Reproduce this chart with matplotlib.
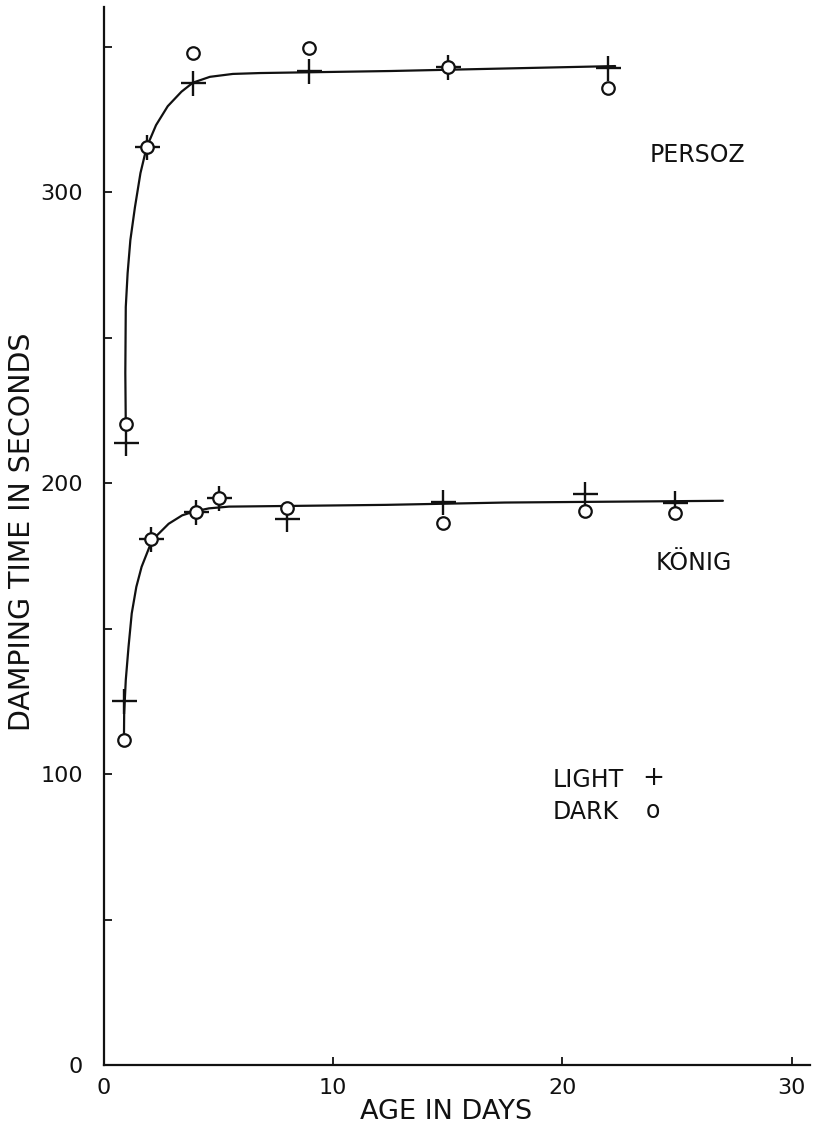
import matplotlib
matplotlib.use("Agg")
import matplotlib.pyplot as plt

# Persoz pendulum hardness
persoz_age = [0.95, 1.86, 3.9, 8.95, 15.0, 22.0]
persoz_light = [213.7, 315.4, 337.5, 341.5, 343.1, 342.5]
persoz_dark = [220.2, 315.4, 347.8, 349.4, 343.1, 335.6]

# König pendulum hardness
konig_age = [0.87, 2.05, 4.0, 5.0, 8.0, 14.8, 21.0, 24.9]
konig_light = [125.0, 180.6, 190.0, 194.8, 187.6, 193.6, 196.2, 193.0]
konig_dark = [111.6, 180.6, 190.0, 194.8, 191.4, 186.4, 190.3, 189.6]

# hand-drawn trend curves
persoz_curve_age = [0.95, 0.93, 0.95, 1.03, 1.15, 1.35, 1.59, 1.86, 2.27, 2.78,
                    3.38, 3.88, 4.62, 5.62, 6.8, 12.5, 22.3]
persoz_curve_val = [220.2, 237.8, 260.5, 272.1, 283.5, 294.8, 306.5, 315.4, 323.0,
                    329.5, 334.5, 337.6, 339.6, 340.6, 340.9, 341.6, 343.3]
konig_curve_age = [0.87, 0.88, 0.95, 1.07, 1.21, 1.41, 1.64, 2.01, 2.31, 2.82,
                   3.41, 3.92, 4.58, 5.45, 6.62, 12.3, 17.5, 27.0]
konig_curve_val = [111.9, 121.0, 132.3, 143.7, 155.2, 164.3, 171.2, 178.6, 182.0,
                   186.0, 188.9, 190.2, 191.3, 191.9, 192.0, 192.5, 193.3, 193.9]

x_ticks = [0, 10, 20, 30]
y_ticks = [0, 50, 100, 150, 200, 250, 300, 350]
y_tick_labels = ["0", "", "100", "", "200", "", "300", ""]

W, H = 816, 1128
fig = plt.figure(figsize=(W / 100, H / 100), dpi=100)
fig.patch.set_facecolor("white")

left, bottom, right, top = 104, 1065, 810, 7
ax = fig.add_axes([left / W, 1 - bottom / H, (right - left) / W, (bottom - top) / H])
ax.set_xlim(0, 30.8)
ax.set_ylim(0, 363.6)

ink = "#111111"
for side in ("top", "right"):
    ax.spines[side].set_visible(False)
for side in ("left", "bottom"):
    ax.spines[side].set_linewidth(1.6)
    ax.spines[side].set_color(ink)

font = "DejaVu Sans"

# curves
ax.plot(persoz_curve_age, persoz_curve_val, color=ink, lw=1.6,
        solid_joinstyle="round", solid_capstyle="round", zorder=2)
ax.plot(konig_curve_age, konig_curve_val, color=ink, lw=1.6,
        solid_joinstyle="round", solid_capstyle="round", zorder=2)

# light (+) and dark (o) measurements
for age, light, dark in ((persoz_age, persoz_light, persoz_dark),
                         (konig_age, konig_light, konig_dark)):
    ax.plot(age, light, linestyle="none", marker="+", markersize=18,
            markeredgewidth=1.7, color=ink, zorder=3)
    ax.plot(age, dark, linestyle="none", marker="o", markersize=9,
            markeredgewidth=1.6, markerfacecolor="white",
            markeredgecolor=ink, zorder=4)

# ticks
ax.set_xticks(x_ticks)
ax.set_xticklabels([str(v) for v in x_ticks], fontfamily=font, fontsize=16)
ax.set_yticks(y_ticks)
ax.set_yticklabels(y_tick_labels, fontfamily=font, fontsize=16)
ax.tick_params(axis="both", direction="in", length=6, width=1.3, color=ink,
               labelcolor=ink)
ax.tick_params(axis="x", pad=9)
ax.tick_params(axis="y", pad=15)


def ftext(px, py, s, **kw):
    fig.text(px / W, 1 - py / H, s, fontfamily=font, color=ink, **kw)


# axis titles
ftext(446, 1112, "AGE IN DAYS", fontsize=19.5, ha="center", va="center")
ftext(22, 532, "DAMPING TIME IN SECONDS", fontsize=20.5, rotation=90,
      ha="center", va="center")

# annotations
ftext(697, 155, "PERSOZ", fontsize=17, ha="center", va="center")
ftext(694, 563, "KÖNIG", fontsize=17, ha="center", va="center")
ftext(553, 780, "LIGHT", fontsize=17, ha="left", va="center")
ftext(653, 778, "+", fontsize=19, ha="center", va="center")
ftext(553, 812, "DARK", fontsize=17, ha="left", va="center")
ftext(653, 811, "o", fontsize=17, ha="center", va="center")

fig.savefig("out.png", dpi=100, facecolor="white")
